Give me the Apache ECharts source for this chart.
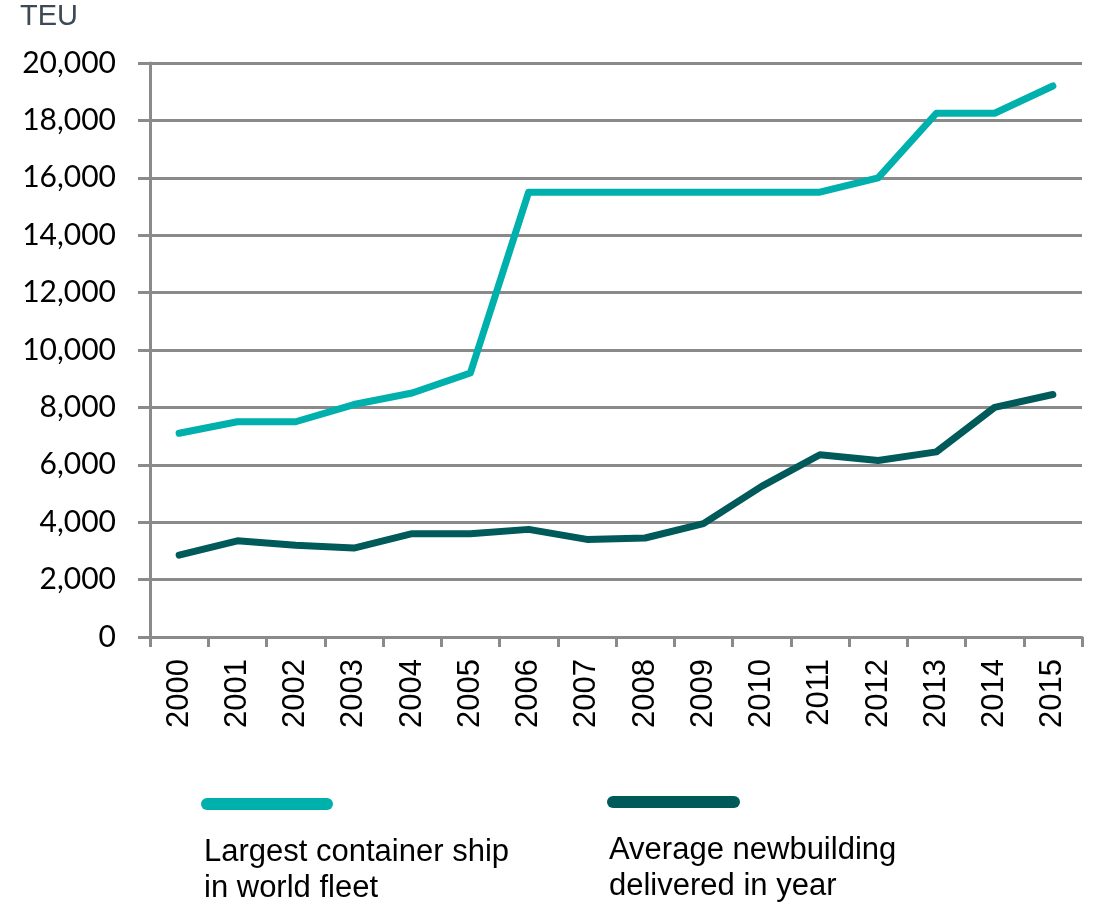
<!DOCTYPE html>
<html><head><meta charset="utf-8">
<script src="https://cdn.jsdelivr.net/npm/echarts@6/dist/echarts.min.js"></script>
<style>html,body{margin:0;padding:0;background:#fff}#c{width:1094px;height:907px}</style>
</head><body><div id="c"></div>
<script>
const years = ['2000','2001','2002','2003','2004','2005','2006','2007','2008','2009','2010','2011','2012','2013','2014','2015'];
const largestShip = [7100,7500,7500,8100,8500,9200,15500,15500,15500,15500,15500,15500,16000,18250,18250,19200];
const avgNewbuilding = [2850,3350,3200,3100,3600,3600,3750,3400,3450,3950,5250,6350,6150,6450,8000,8450];
const seriesNames = ['Largest container ship\nin world fleet','Average newbuilding\ndelivered in year'];
const colors = ['#00B0AD','#005A5A'];
const yTicks = {min:0,max:20000,interval:2000};
const unit = 'TEU';

const chart = echarts.init(document.getElementById('c'));
const gridColor = '#8a8a8a';
chart.setOption({
  animation:false,
  grid:{left:150,right:12,top:63,bottom:270,containLabel:false},
  xAxis:{type:'category',data:years,boundaryGap:true,
    axisLine:{lineStyle:{color:gridColor,width:3}},
    axisTick:{show:true,length:10,lineStyle:{color:gridColor,width:3},alignWithLabel:false},
    axisLabel:{rotate:90,margin:22,fontSize:31,fontFamily:'Liberation Sans',color:'#000',interval:0}
  },
  yAxis:{type:'value',min:yTicks.min,max:yTicks.max,interval:yTicks.interval,
    axisLine:{show:true,lineStyle:{color:gridColor,width:3}},
    axisTick:{show:true,length:12,lineStyle:{color:gridColor,width:3}},
    splitLine:{show:true,lineStyle:{color:gridColor,width:3}},
    axisLabel:{margin:34,fontSize:30,fontFamily:'Lato',color:'#000',
      formatter:v=>v.toLocaleString('en-US')}
  },
  series:[
    {name:seriesNames[0],type:'line',data:largestShip,symbol:'none',lineStyle:{color:colors[0],width:7,cap:'round',join:'round'},itemStyle:{color:colors[0]}},
    {name:seriesNames[1],type:'line',data:avgNewbuilding,symbol:'none',lineStyle:{color:colors[1],width:7,cap:'round',join:'round'},itemStyle:{color:colors[1]}}
  ],
  graphic:[
    {type:'text',left:20,top:2,style:{text:unit,fontSize:29,fontFamily:'Liberation Sans',fill:'#3d4a55'}},
    {type:'line',shape:{x1:207,y1:804,x2:327,y2:804},style:{stroke:colors[0],lineWidth:12,lineCap:'round'}},
    {type:'line',shape:{x1:613,y1:802,x2:734,y2:802},style:{stroke:colors[1],lineWidth:12,lineCap:'round'}},
    {type:'text',left:204,top:834,style:{text:seriesNames[0],fontSize:31,lineHeight:36,fontFamily:'Liberation Sans',fill:'#000'}},
    {type:'text',left:609,top:832,style:{text:seriesNames[1],fontSize:31,lineHeight:36,fontFamily:'Liberation Sans',fill:'#000'}}
  ]
});
</script></body></html>
